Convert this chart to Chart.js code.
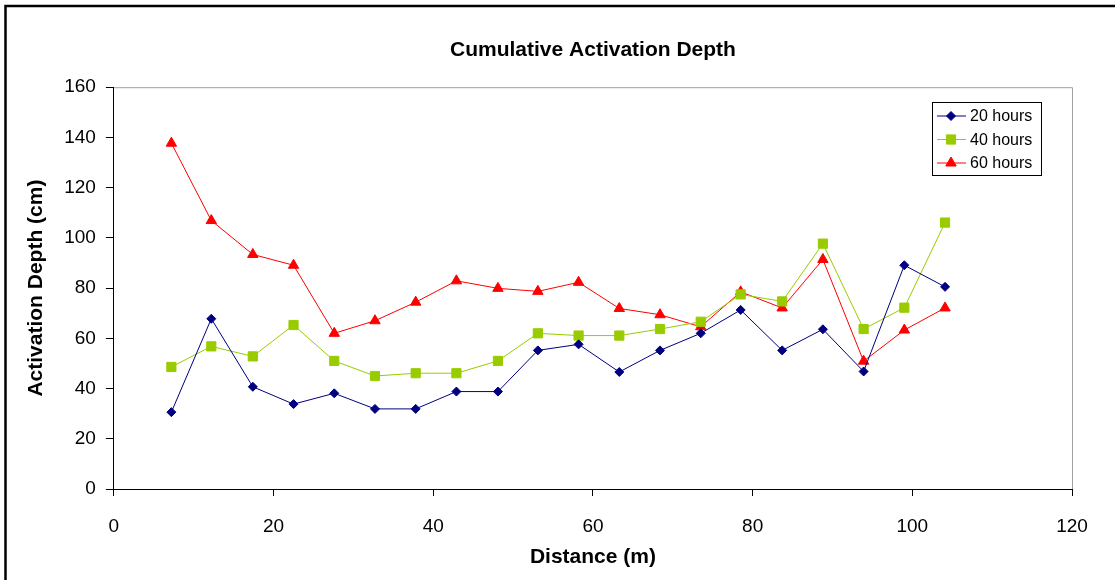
<!DOCTYPE html>
<html>
<head>
<meta charset="utf-8">
<script src="https://cdn.jsdelivr.net/npm/chart.js@4/dist/chart.umd.min.js"></script>
<style>
  html, body { margin: 0; padding: 0; background: #fff; }
  #wrap { width: 1115px; height: 580px; }
</style>
</head>
<body>
<div id="wrap"><canvas id="lineCanvas" width="1115" height="580"></canvas></div>
<script>
Chart.defaults.font.family = "'Liberation Sans', Arial, sans-serif";
Chart.defaults.color = "#000000";

// distance along the line (m)
const distance = [7.2, 12.2, 17.4, 22.5, 27.6, 32.7, 37.8, 42.9, 48.1, 53.1, 58.2, 63.3, 68.4, 73.5, 78.5, 83.7, 88.8, 93.9, 99.0, 104.1];

// activation depth (cm)
const hours20 = [30.6, 67.8, 40.7, 33.8, 38.1, 31.9, 31.9, 38.8, 38.8, 55.2, 57.6, 46.6, 55.2, 62.0, 71.3, 55.2, 63.6, 46.8, 89.1, 80.5];
const hours40 = [48.6, 56.8, 52.8, 65.3, 51.0, 45.0, 46.1, 46.1, 51.0, 62.0, 61.1, 61.1, 63.7, 66.6, 77.5, 74.7, 97.7, 63.7, 72.2, 106.1];
const hours60 = [137.7, 106.9, 93.4, 89.1, 62.0, 67.0, 74.4, 82.9, 79.9, 78.7, 82.3, 71.9, 69.4, 64.6, 78.5, 72.1, 91.4, 50.9, 63.3, 72.1];

const seriesNames = ['20 hours', '40 hours', '60 hours'];
const xTicks = [0, 20, 40, 60, 80, 100, 120];
const yTicks = [0, 20, 40, 60, 80, 100, 120, 140, 160];

function toPoints(ys) {
    return ys.map((y, i) => ({ x: distance[i], y: y }));
}

// white page, outer frame and the grey top/right edge of the plot area
const framePlugin = {
    id: 'frame',
    beforeDraw(chart) {
        const ctx = chart.ctx;
        ctx.save();
        ctx.fillStyle = '#fff';
        ctx.fillRect(0, 0, chart.width, chart.height);
        ctx.strokeStyle = '#000';
        ctx.lineWidth = 2.5;
        ctx.beginPath();
        ctx.moveTo(5.5, chart.height + 5);
        ctx.lineTo(5.5, 6);
        ctx.lineTo(chart.width + 5, 6);
        ctx.stroke();
        ctx.restore();
    },
    beforeDatasetsDraw(chart) {
        const a = chart.chartArea;
        const ctx = chart.ctx;
        ctx.save();
        ctx.strokeStyle = '#a0a0a0';
        ctx.lineWidth = 1;
        ctx.beginPath();
        ctx.moveTo(a.left, a.top + 0.5);
        ctx.lineTo(a.right + 0.5, a.top + 0.5);
        ctx.lineTo(a.right + 0.5, a.bottom);
        ctx.stroke();
        ctx.restore();
    }
};

// boxed legend inside the plot, with line + marker samples
const boxLegend = {
    id: 'boxLegend',
    afterDraw(chart) {
        const ctx = chart.ctx;
        const bx = 932, by = 102, bw = 109, bh = 73;
        ctx.save();
        ctx.fillStyle = '#fff';
        ctx.fillRect(bx, by, bw, bh);
        ctx.strokeStyle = '#000';
        ctx.lineWidth = 1;
        ctx.strokeRect(bx + 0.5, by + 0.5, bw, bh);
        ctx.font = "16px 'Liberation Sans', Arial, sans-serif";
        ctx.textBaseline = 'middle';
        ctx.textAlign = 'left';
        chart.data.datasets.forEach((ds, i) => {
            const y = by + 14 + i * 23.5;
            ctx.strokeStyle = ds.borderColor;
            ctx.lineWidth = 1;
            ctx.beginPath();
            ctx.moveTo(bx + 5, y);
            ctx.lineTo(bx + 34, y);
            ctx.stroke();
            ctx.fillStyle = ds.pointBackgroundColor;
            ctx.strokeStyle = ds.pointBorderColor;
            Chart.helpers.drawPoint(ctx, {
                pointStyle: ds.pointStyle,
                radius: ds.pointRadius,
                rotation: 0,
                borderWidth: 1
            }, bx + 19, y);
            ctx.fillStyle = '#000';
            ctx.fillText(ds.label, bx + 38, y + 1);
        });
        ctx.restore();
    }
};

const lineCanvas = document.getElementById('lineCanvas');

const lineChart = new Chart(lineCanvas, {
    type: 'line',
    data: {
        datasets: [{
            label: seriesNames[0],
            data: toPoints(hours20),
            borderColor: '#000080',
            backgroundColor: '#000080',
            pointBackgroundColor: '#000080',
            pointBorderColor: '#000080',
            pointStyle: 'rectRot',
            pointRadius: 4.5
        }, {
            label: seriesNames[1],
            data: toPoints(hours40),
            borderColor: '#99CC00',
            backgroundColor: '#99CC00',
            pointBackgroundColor: '#99CC00',
            pointBorderColor: '#99CC00',
            pointStyle: 'rect',
            pointRadius: 6.5
        }, {
            label: seriesNames[2],
            data: toPoints(hours60),
            borderColor: '#FF0000',
            backgroundColor: '#FF0000',
            pointBackgroundColor: '#FF0000',
            pointBorderColor: '#FF0000',
            pointStyle: 'triangle',
            pointRadius: 6
        }]
    },
    options: {
        responsive: false,
        animation: false,
        events: [],
        elements: {
            line: { borderWidth: 1, tension: 0, fill: false },
            point: { borderWidth: 1, hoverRadius: 0 }
        },
        layout: {
            padding: { left: 15, right: 43, top: 30, bottom: 4 }
        },
        scales: {
            x: {
                type: 'linear',
                min: 0,
                max: 120,
                afterBuildTicks(scale) {
                    scale.ticks = xTicks.map(v => ({ value: v }));
                },
                grid: {
                    drawOnChartArea: false,
                    drawTicks: true,
                    tickLength: 7,
                    tickColor: '#000'
                },
                border: { display: true, color: '#000', width: 1 },
                ticks: {
                    font: { size: 19 },
                    padding: 19,
                    maxRotation: 0,
                    autoSkip: false
                },
                title: {
                    display: true,
                    text: 'Distance (m)',
                    font: { size: 21, weight: 'bold' },
                    padding: { top: -12, bottom: 6 }
                }
            },
            y: {
                type: 'linear',
                min: 0,
                max: 160,
                afterBuildTicks(scale) {
                    scale.ticks = yTicks.map(v => ({ value: v }));
                },
                grid: {
                    drawOnChartArea: false,
                    drawTicks: true,
                    tickLength: 8,
                    tickColor: '#000'
                },
                border: { display: true, color: '#000', width: 1 },
                ticks: {
                    font: { size: 19 },
                    padding: 10
                },
                title: {
                    display: true,
                    text: 'Activation Depth (cm)',
                    font: { size: 21, weight: 'bold' },
                    padding: { top: 9, bottom: 5 }
                }
            }
        },
        plugins: {
            legend: { display: false },
            tooltip: { enabled: false },
            title: {
                display: true,
                text: 'Cumulative Activation Depth',
                fullSize: false,
                font: { size: 21, weight: 'bold' },
                color: '#000',
                padding: { top: 8, bottom: 24 }
            }
        }
    },
    plugins: [framePlugin, boxLegend]
});
</script>
</body>
</html>
